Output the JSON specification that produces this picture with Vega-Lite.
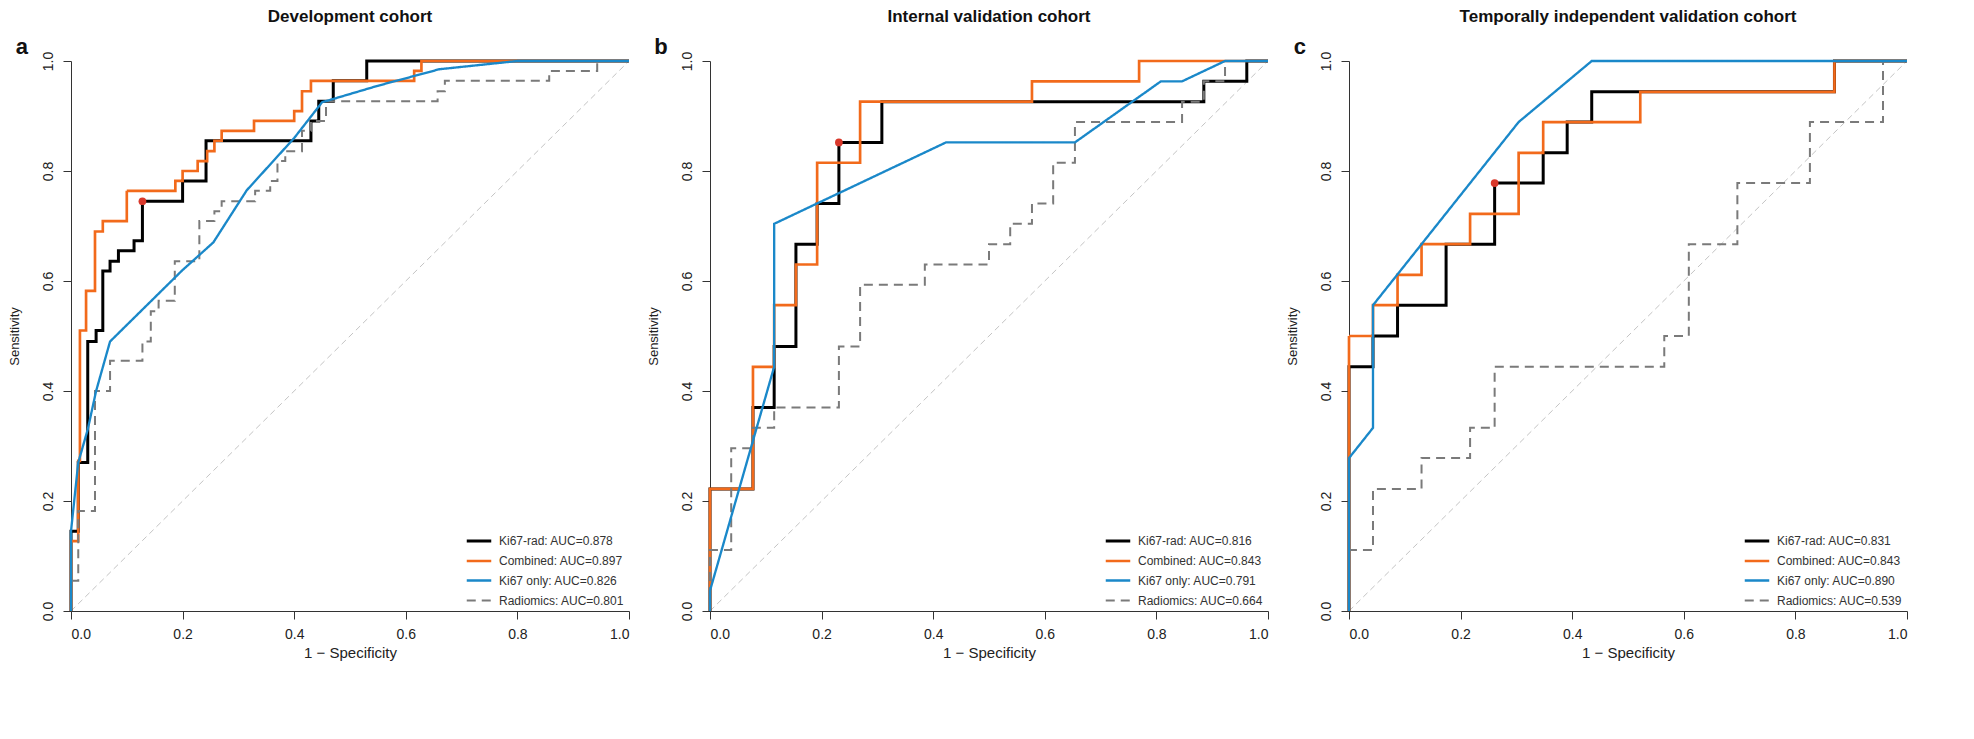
{
  "$schema": "https://vega.github.io/schema/vega-lite/v6.json",
  "background": "white",
  "padding": {"left": 8, "top": 8, "right": 10, "bottom": 4},
  "spacing": 12,
  "config": {
    "font": "Liberation Sans",
    "view": {"stroke": null},
    "axis": {"grid": false, "domainColor": "#333", "tickColor": "#333", "labelColor": "#222", "titleColor": "#222", "labelFontSize": 14, "titleFontWeight": "normal", "tickSize": 8, "labelPadding": 8},
    "axisX": {"titlePadding": 4},
    "axisY": {"titlePadding": 20},
    "title": {"fontSize": 17, "fontWeight": "bold", "color": "#111", "offset": 10},
    "legend": {"labelFontSize": 12, "labelColor": "#333", "symbolType": "stroke", "symbolSize": 600, "rowPadding": 0, "labelOffset": 6}
  },
  "datasets": {
    "roc": [
      {"p":"a","m":"Ki67-rad","x":0,"y":0},{"p":"a","m":"Ki67-rad","x":0,"y":0.145},{"p":"a","m":"Ki67-rad","x":0.013,"y":0.27},{"p":"a","m":"Ki67-rad","x":0.03,"y":0.49},{"p":"a","m":"Ki67-rad","x":0.045,"y":0.51},{"p":"a","m":"Ki67-rad","x":0.057,"y":0.618},{"p":"a","m":"Ki67-rad","x":0.07,"y":0.636},{"p":"a","m":"Ki67-rad","x":0.085,"y":0.655},{"p":"a","m":"Ki67-rad","x":0.113,"y":0.673},{"p":"a","m":"Ki67-rad","x":0.128,"y":0.745},{"p":"a","m":"Ki67-rad","x":0.2,"y":0.782},{"p":"a","m":"Ki67-rad","x":0.242,"y":0.855},{"p":"a","m":"Ki67-rad","x":0.43,"y":0.891},{"p":"a","m":"Ki67-rad","x":0.444,"y":0.927},{"p":"a","m":"Ki67-rad","x":0.47,"y":0.964},{"p":"a","m":"Ki67-rad","x":0.53,"y":1},{"p":"a","m":"Ki67-rad","x":1,"y":1},
      {"p":"a","m":"Combined","x":0,"y":0},{"p":"a","m":"Combined","x":0,"y":0.127},{"p":"a","m":"Combined","x":0.013,"y":0.273},{"p":"a","m":"Combined","x":0.016,"y":0.51},{"p":"a","m":"Combined","x":0.027,"y":0.582},{"p":"a","m":"Combined","x":0.043,"y":0.69},{"p":"a","m":"Combined","x":0.057,"y":0.709},{"p":"a","m":"Combined","x":0.1,"y":0.764},{"p":"a","m":"Combined","x":0.187,"y":0.782},{"p":"a","m":"Combined","x":0.2,"y":0.8},{"p":"a","m":"Combined","x":0.227,"y":0.818},{"p":"a","m":"Combined","x":0.244,"y":0.836},{"p":"a","m":"Combined","x":0.257,"y":0.855},{"p":"a","m":"Combined","x":0.27,"y":0.873},{"p":"a","m":"Combined","x":0.328,"y":0.891},{"p":"a","m":"Combined","x":0.4,"y":0.909},{"p":"a","m":"Combined","x":0.414,"y":0.945},{"p":"a","m":"Combined","x":0.43,"y":0.964},{"p":"a","m":"Combined","x":0.615,"y":0.982},{"p":"a","m":"Combined","x":0.628,"y":1},{"p":"a","m":"Combined","x":1,"y":1},
      {"p":"a","m":"Ki67 only","x":0,"y":0},{"p":"a","m":"Ki67 only","x":0,"y":0.145},{"p":"a","m":"Ki67 only","x":0.013,"y":0.27},{"p":"a","m":"Ki67 only","x":0.03,"y":0.33},{"p":"a","m":"Ki67 only","x":0.045,"y":0.4},{"p":"a","m":"Ki67 only","x":0.07,"y":0.49},{"p":"a","m":"Ki67 only","x":0.2,"y":0.62},{"p":"a","m":"Ki67 only","x":0.255,"y":0.67},{"p":"a","m":"Ki67 only","x":0.315,"y":0.765},{"p":"a","m":"Ki67 only","x":0.4,"y":0.86},{"p":"a","m":"Ki67 only","x":0.45,"y":0.925},{"p":"a","m":"Ki67 only","x":0.55,"y":0.955},{"p":"a","m":"Ki67 only","x":0.66,"y":0.985},{"p":"a","m":"Ki67 only","x":0.8,"y":1},{"p":"a","m":"Ki67 only","x":1,"y":1},
      {"p":"a","m":"Radiomics","x":0,"y":0},{"p":"a","m":"Radiomics","x":0,"y":0.055},{"p":"a","m":"Radiomics","x":0.013,"y":0.182},{"p":"a","m":"Radiomics","x":0.043,"y":0.4},{"p":"a","m":"Radiomics","x":0.07,"y":0.455},{"p":"a","m":"Radiomics","x":0.128,"y":0.49},{"p":"a","m":"Radiomics","x":0.143,"y":0.545},{"p":"a","m":"Radiomics","x":0.157,"y":0.564},{"p":"a","m":"Radiomics","x":0.186,"y":0.636},{"p":"a","m":"Radiomics","x":0.23,"y":0.709},{"p":"a","m":"Radiomics","x":0.257,"y":0.727},{"p":"a","m":"Radiomics","x":0.27,"y":0.745},{"p":"a","m":"Radiomics","x":0.33,"y":0.764},{"p":"a","m":"Radiomics","x":0.357,"y":0.782},{"p":"a","m":"Radiomics","x":0.37,"y":0.818},{"p":"a","m":"Radiomics","x":0.384,"y":0.836},{"p":"a","m":"Radiomics","x":0.414,"y":0.873},{"p":"a","m":"Radiomics","x":0.43,"y":0.891},{"p":"a","m":"Radiomics","x":0.457,"y":0.927},{"p":"a","m":"Radiomics","x":0.657,"y":0.945},{"p":"a","m":"Radiomics","x":0.67,"y":0.964},{"p":"a","m":"Radiomics","x":0.857,"y":0.982},{"p":"a","m":"Radiomics","x":0.943,"y":1},{"p":"a","m":"Radiomics","x":1,"y":1},
      {"p":"b","m":"Ki67-rad","x":0,"y":0},{"p":"b","m":"Ki67-rad","x":0,"y":0.222},{"p":"b","m":"Ki67-rad","x":0.077,"y":0.37},{"p":"b","m":"Ki67-rad","x":0.115,"y":0.481},{"p":"b","m":"Ki67-rad","x":0.154,"y":0.667},{"p":"b","m":"Ki67-rad","x":0.192,"y":0.741},{"p":"b","m":"Ki67-rad","x":0.231,"y":0.852},{"p":"b","m":"Ki67-rad","x":0.308,"y":0.926},{"p":"b","m":"Ki67-rad","x":0.885,"y":0.963},{"p":"b","m":"Ki67-rad","x":0.962,"y":1},{"p":"b","m":"Ki67-rad","x":1,"y":1},
      {"p":"b","m":"Combined","x":0,"y":0},{"p":"b","m":"Combined","x":0,"y":0.222},{"p":"b","m":"Combined","x":0.077,"y":0.444},{"p":"b","m":"Combined","x":0.115,"y":0.556},{"p":"b","m":"Combined","x":0.154,"y":0.63},{"p":"b","m":"Combined","x":0.192,"y":0.815},{"p":"b","m":"Combined","x":0.269,"y":0.926},{"p":"b","m":"Combined","x":0.577,"y":0.963},{"p":"b","m":"Combined","x":0.769,"y":1},{"p":"b","m":"Combined","x":1,"y":1},
      {"p":"b","m":"Ki67 only","x":0,"y":0},{"p":"b","m":"Ki67 only","x":0,"y":0.037},{"p":"b","m":"Ki67 only","x":0.115,"y":0.444},{"p":"b","m":"Ki67 only","x":0.115,"y":0.704},{"p":"b","m":"Ki67 only","x":0.423,"y":0.852},{"p":"b","m":"Ki67 only","x":0.654,"y":0.852},{"p":"b","m":"Ki67 only","x":0.808,"y":0.963},{"p":"b","m":"Ki67 only","x":0.846,"y":0.963},{"p":"b","m":"Ki67 only","x":0.923,"y":1},{"p":"b","m":"Ki67 only","x":1,"y":1},
      {"p":"b","m":"Radiomics","x":0,"y":0},{"p":"b","m":"Radiomics","x":0,"y":0.111},{"p":"b","m":"Radiomics","x":0.038,"y":0.296},{"p":"b","m":"Radiomics","x":0.077,"y":0.333},{"p":"b","m":"Radiomics","x":0.115,"y":0.37},{"p":"b","m":"Radiomics","x":0.231,"y":0.481},{"p":"b","m":"Radiomics","x":0.269,"y":0.593},{"p":"b","m":"Radiomics","x":0.385,"y":0.63},{"p":"b","m":"Radiomics","x":0.5,"y":0.667},{"p":"b","m":"Radiomics","x":0.538,"y":0.704},{"p":"b","m":"Radiomics","x":0.577,"y":0.741},{"p":"b","m":"Radiomics","x":0.615,"y":0.815},{"p":"b","m":"Radiomics","x":0.654,"y":0.889},{"p":"b","m":"Radiomics","x":0.846,"y":0.926},{"p":"b","m":"Radiomics","x":0.885,"y":0.963},{"p":"b","m":"Radiomics","x":0.923,"y":1},{"p":"b","m":"Radiomics","x":1,"y":1},
      {"p":"c","m":"Ki67-rad","x":0,"y":0},{"p":"c","m":"Ki67-rad","x":0,"y":0.444},{"p":"c","m":"Ki67-rad","x":0.043,"y":0.5},{"p":"c","m":"Ki67-rad","x":0.087,"y":0.556},{"p":"c","m":"Ki67-rad","x":0.174,"y":0.667},{"p":"c","m":"Ki67-rad","x":0.261,"y":0.778},{"p":"c","m":"Ki67-rad","x":0.348,"y":0.833},{"p":"c","m":"Ki67-rad","x":0.391,"y":0.889},{"p":"c","m":"Ki67-rad","x":0.435,"y":0.944},{"p":"c","m":"Ki67-rad","x":0.87,"y":1},{"p":"c","m":"Ki67-rad","x":1,"y":1},
      {"p":"c","m":"Combined","x":0,"y":0},{"p":"c","m":"Combined","x":0,"y":0.5},{"p":"c","m":"Combined","x":0.043,"y":0.556},{"p":"c","m":"Combined","x":0.087,"y":0.611},{"p":"c","m":"Combined","x":0.13,"y":0.667},{"p":"c","m":"Combined","x":0.217,"y":0.722},{"p":"c","m":"Combined","x":0.304,"y":0.833},{"p":"c","m":"Combined","x":0.348,"y":0.889},{"p":"c","m":"Combined","x":0.522,"y":0.944},{"p":"c","m":"Combined","x":0.87,"y":1},{"p":"c","m":"Combined","x":1,"y":1},
      {"p":"c","m":"Ki67 only","x":0,"y":0},{"p":"c","m":"Ki67 only","x":0,"y":0.278},{"p":"c","m":"Ki67 only","x":0.043,"y":0.333},{"p":"c","m":"Ki67 only","x":0.043,"y":0.556},{"p":"c","m":"Ki67 only","x":0.13,"y":0.667},{"p":"c","m":"Ki67 only","x":0.304,"y":0.889},{"p":"c","m":"Ki67 only","x":0.435,"y":1},{"p":"c","m":"Ki67 only","x":1,"y":1},
      {"p":"c","m":"Radiomics","x":0,"y":0},{"p":"c","m":"Radiomics","x":0,"y":0.111},{"p":"c","m":"Radiomics","x":0.043,"y":0.222},{"p":"c","m":"Radiomics","x":0.13,"y":0.278},{"p":"c","m":"Radiomics","x":0.217,"y":0.333},{"p":"c","m":"Radiomics","x":0.261,"y":0.444},{"p":"c","m":"Radiomics","x":0.565,"y":0.5},{"p":"c","m":"Radiomics","x":0.609,"y":0.667},{"p":"c","m":"Radiomics","x":0.696,"y":0.778},{"p":"c","m":"Radiomics","x":0.826,"y":0.889},{"p":"c","m":"Radiomics","x":0.957,"y":1},{"p":"c","m":"Radiomics","x":1,"y":1}
    ],
    "opt": [
      {"p":"a","x":0.128,"y":0.745},
      {"p":"b","x":0.231,"y":0.852},
      {"p":"c","x":0.261,"y":0.778}
    ]
  },
  "resolve": {"scale": {"color": "independent", "strokeDash": "independent", "strokeWidth": "independent"}, "legend": {"color": "independent", "strokeDash": "independent", "strokeWidth": "independent"}},
  "hconcat": [
    {
      "title": "Development cohort",
      "width": 558, "height": 550,
      "layer": [
        {"data": {"values": [{}]}, "mark": {"type": "rule", "color": "#c4c4c4", "strokeDash": [6, 4], "strokeWidth": 1},
         "encoding": {"x": {"datum": 0, "type": "quantitative"}, "y": {"datum": 0, "type": "quantitative"}, "x2": {"datum": 1}, "y2": {"datum": 1}}},
        {"data": {"name": "roc"}, "transform": [{"filter": "datum.p == 'a' && datum.m != 'Ki67 only'"}],
         "mark": {"type": "line", "interpolate": "step-after"},
         "encoding": {
           "x": {"field": "x", "type": "quantitative", "scale": {"domain": [0, 1], "nice": false}, "axis": {"values": [0, 0.2, 0.4, 0.6, 0.8, 1], "format": ".1f", "title": "1 − Specificity", "titleFontSize": 15}},
           "y": {"field": "y", "type": "quantitative", "scale": {"domain": [0, 1], "nice": false}, "axis": {"values": [0, 0.2, 0.4, 0.6, 0.8, 1], "format": ".1f", "labelAngle": -90, "labelAlign": "center", "labelBaseline": "bottom", "title": "Sensitivity", "titleFontSize": 13}},
           "order": [{"field": "x", "type": "quantitative"}, {"field": "y", "type": "quantitative"}],
           "color": {"field": "m", "type": "nominal", "scale": {"domain": ["Ki67-rad", "Combined", "Ki67 only", "Radiomics"], "range": ["#000000", "#f26a1b", "#1a88c9", "#7a7a7a"]}, "legend": {"title": null, "orient": "bottom-right", "offset": 4, "labelExpr": "{'Ki67-rad':'Ki67-rad: AUC=0.878','Combined':'Combined: AUC=0.897','Ki67 only':'Ki67 only: AUC=0.826','Radiomics':'Radiomics: AUC=0.801'}[datum.label]"}},
           "strokeDash": {"field": "m", "type": "nominal", "scale": {"domain": ["Ki67-rad", "Combined", "Ki67 only", "Radiomics"], "range": [[1, 0], [1, 0], [1, 0], [9, 6]]}, "legend": null},
           "strokeWidth": {"field": "m", "type": "nominal", "scale": {"domain": ["Ki67-rad", "Combined", "Ki67 only", "Radiomics"], "range": [3, 2, 2, 2]}, "legend": null}
         }},
        {"data": {"name": "roc"}, "transform": [{"filter": "datum.p == 'a' && datum.m == 'Ki67 only'"}],
         "mark": {"type": "line"},
         "encoding": {
           "x": {"field": "x", "type": "quantitative"},
           "y": {"field": "y", "type": "quantitative"},
           "order": [{"field": "x", "type": "quantitative"}, {"field": "y", "type": "quantitative"}],
           "color": {"field": "m", "type": "nominal"},
           "strokeDash": {"field": "m", "type": "nominal"},
           "strokeWidth": {"field": "m", "type": "nominal"}
         }},
        {"data": {"name": "opt"}, "transform": [{"filter": "datum.p == 'a'"}],
         "mark": {"type": "circle", "color": "#d9382b", "opacity": 1, "size": 60},
         "encoding": {"x": {"field": "x", "type": "quantitative"}, "y": {"field": "y", "type": "quantitative"}}},
        {"data": {"values": [{}]}, "mark": {"type": "text", "text": "a", "fontSize": 22, "fontWeight": "bold", "color": "#111"},
         "encoding": {"x": {"datum": -0.088, "type": "quantitative"}, "y": {"datum": 1.025, "type": "quantitative"}}}
      ]
    },
    {
      "title": "Internal validation cohort",
      "width": 558, "height": 550,
      "layer": [
        {"data": {"values": [{}]}, "mark": {"type": "rule", "color": "#c4c4c4", "strokeDash": [6, 4], "strokeWidth": 1},
         "encoding": {"x": {"datum": 0, "type": "quantitative"}, "y": {"datum": 0, "type": "quantitative"}, "x2": {"datum": 1}, "y2": {"datum": 1}}},
        {"data": {"name": "roc"}, "transform": [{"filter": "datum.p == 'b' && datum.m != 'Ki67 only'"}],
         "mark": {"type": "line", "interpolate": "step-after"},
         "encoding": {
           "x": {"field": "x", "type": "quantitative", "scale": {"domain": [0, 1], "nice": false}, "axis": {"values": [0, 0.2, 0.4, 0.6, 0.8, 1], "format": ".1f", "title": "1 − Specificity", "titleFontSize": 15}},
           "y": {"field": "y", "type": "quantitative", "scale": {"domain": [0, 1], "nice": false}, "axis": {"values": [0, 0.2, 0.4, 0.6, 0.8, 1], "format": ".1f", "labelAngle": -90, "labelAlign": "center", "labelBaseline": "bottom", "title": "Sensitivity", "titleFontSize": 13}},
           "order": [{"field": "x", "type": "quantitative"}, {"field": "y", "type": "quantitative"}],
           "color": {"field": "m", "type": "nominal", "scale": {"domain": ["Ki67-rad", "Combined", "Ki67 only", "Radiomics"], "range": ["#000000", "#f26a1b", "#1a88c9", "#7a7a7a"]}, "legend": {"title": null, "orient": "bottom-right", "offset": 4, "labelExpr": "{'Ki67-rad':'Ki67-rad: AUC=0.816','Combined':'Combined: AUC=0.843','Ki67 only':'Ki67 only: AUC=0.791','Radiomics':'Radiomics: AUC=0.664'}[datum.label]"}},
           "strokeDash": {"field": "m", "type": "nominal", "scale": {"domain": ["Ki67-rad", "Combined", "Ki67 only", "Radiomics"], "range": [[1, 0], [1, 0], [1, 0], [9, 6]]}, "legend": null},
           "strokeWidth": {"field": "m", "type": "nominal", "scale": {"domain": ["Ki67-rad", "Combined", "Ki67 only", "Radiomics"], "range": [3, 2, 2, 2]}, "legend": null}
         }},
        {"data": {"name": "roc"}, "transform": [{"filter": "datum.p == 'b' && datum.m == 'Ki67 only'"}],
         "mark": {"type": "line"},
         "encoding": {
           "x": {"field": "x", "type": "quantitative"},
           "y": {"field": "y", "type": "quantitative"},
           "order": [{"field": "x", "type": "quantitative"}, {"field": "y", "type": "quantitative"}],
           "color": {"field": "m", "type": "nominal"},
           "strokeDash": {"field": "m", "type": "nominal"},
           "strokeWidth": {"field": "m", "type": "nominal"}
         }},
        {"data": {"name": "opt"}, "transform": [{"filter": "datum.p == 'b'"}],
         "mark": {"type": "circle", "color": "#d9382b", "opacity": 1, "size": 60},
         "encoding": {"x": {"field": "x", "type": "quantitative"}, "y": {"field": "y", "type": "quantitative"}}},
        {"data": {"values": [{}]}, "mark": {"type": "text", "text": "b", "fontSize": 22, "fontWeight": "bold", "color": "#111"},
         "encoding": {"x": {"datum": -0.088, "type": "quantitative"}, "y": {"datum": 1.025, "type": "quantitative"}}}
      ]
    },
    {
      "title": "Temporally independent validation cohort",
      "width": 558, "height": 550,
      "layer": [
        {"data": {"values": [{}]}, "mark": {"type": "rule", "color": "#c4c4c4", "strokeDash": [6, 4], "strokeWidth": 1},
         "encoding": {"x": {"datum": 0, "type": "quantitative"}, "y": {"datum": 0, "type": "quantitative"}, "x2": {"datum": 1}, "y2": {"datum": 1}}},
        {"data": {"name": "roc"}, "transform": [{"filter": "datum.p == 'c' && datum.m != 'Ki67 only'"}],
         "mark": {"type": "line", "interpolate": "step-after"},
         "encoding": {
           "x": {"field": "x", "type": "quantitative", "scale": {"domain": [0, 1], "nice": false}, "axis": {"values": [0, 0.2, 0.4, 0.6, 0.8, 1], "format": ".1f", "title": "1 − Specificity", "titleFontSize": 15}},
           "y": {"field": "y", "type": "quantitative", "scale": {"domain": [0, 1], "nice": false}, "axis": {"values": [0, 0.2, 0.4, 0.6, 0.8, 1], "format": ".1f", "labelAngle": -90, "labelAlign": "center", "labelBaseline": "bottom", "title": "Sensitivity", "titleFontSize": 13}},
           "order": [{"field": "x", "type": "quantitative"}, {"field": "y", "type": "quantitative"}],
           "color": {"field": "m", "type": "nominal", "scale": {"domain": ["Ki67-rad", "Combined", "Ki67 only", "Radiomics"], "range": ["#000000", "#f26a1b", "#1a88c9", "#7a7a7a"]}, "legend": {"title": null, "orient": "bottom-right", "offset": 4, "labelExpr": "{'Ki67-rad':'Ki67-rad: AUC=0.831','Combined':'Combined: AUC=0.843','Ki67 only':'Ki67 only: AUC=0.890','Radiomics':'Radiomics: AUC=0.539'}[datum.label]"}},
           "strokeDash": {"field": "m", "type": "nominal", "scale": {"domain": ["Ki67-rad", "Combined", "Ki67 only", "Radiomics"], "range": [[1, 0], [1, 0], [1, 0], [9, 6]]}, "legend": null},
           "strokeWidth": {"field": "m", "type": "nominal", "scale": {"domain": ["Ki67-rad", "Combined", "Ki67 only", "Radiomics"], "range": [3, 2, 2, 2]}, "legend": null}
         }},
        {"data": {"name": "roc"}, "transform": [{"filter": "datum.p == 'c' && datum.m == 'Ki67 only'"}],
         "mark": {"type": "line"},
         "encoding": {
           "x": {"field": "x", "type": "quantitative"},
           "y": {"field": "y", "type": "quantitative"},
           "order": [{"field": "x", "type": "quantitative"}, {"field": "y", "type": "quantitative"}],
           "color": {"field": "m", "type": "nominal"},
           "strokeDash": {"field": "m", "type": "nominal"},
           "strokeWidth": {"field": "m", "type": "nominal"}
         }},
        {"data": {"name": "opt"}, "transform": [{"filter": "datum.p == 'c'"}],
         "mark": {"type": "circle", "color": "#d9382b", "opacity": 1, "size": 60},
         "encoding": {"x": {"field": "x", "type": "quantitative"}, "y": {"field": "y", "type": "quantitative"}}},
        {"data": {"values": [{}]}, "mark": {"type": "text", "text": "c", "fontSize": 22, "fontWeight": "bold", "color": "#111"},
         "encoding": {"x": {"datum": -0.088, "type": "quantitative"}, "y": {"datum": 1.025, "type": "quantitative"}}}
      ]
    }
  ]
}
